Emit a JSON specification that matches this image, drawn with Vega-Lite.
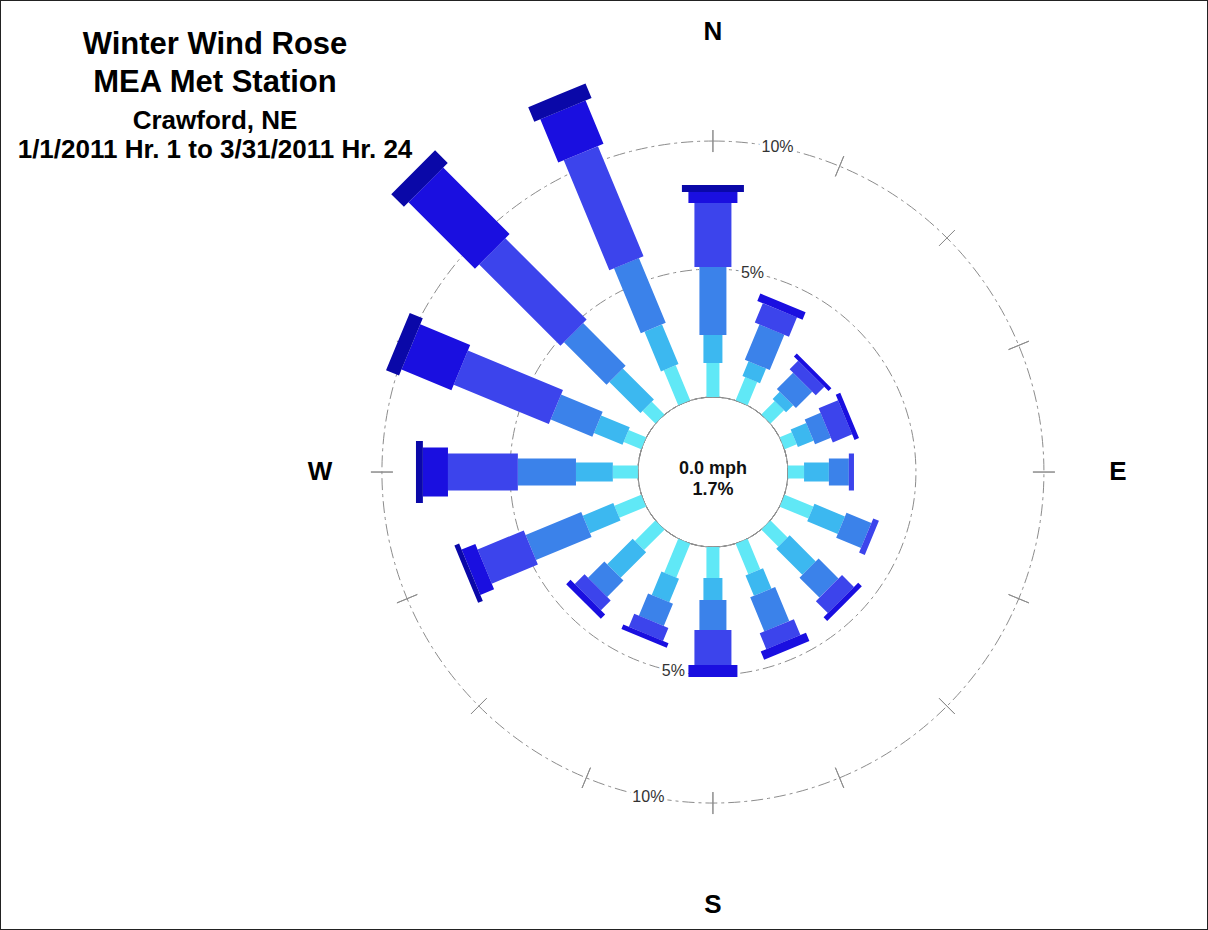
{
  "$schema": "https://vega.github.io/schema/vega-lite/v6.json",
  "width": 1208,
  "height": 930,
  "autosize": {"type": "fit", "contains": "padding"},
  "padding": 0,
  "background": "white",
  "config": {
    "view": {"stroke": "#222222", "strokeWidth": 2},
    "font": "Liberation Sans"
  },
  "title": {
    "text": ["Winter Wind Rose", "MEA Met Station"],
    "subtitle": ["Crawford, NE", "1/1/2011 Hr. 1 to 3/31/2011 Hr. 24"],
    "anchor": "start",
    "frame": "group",
    "align": "center",
    "baseline": "top",
    "dx": 215,
    "offset": -164,
    "font": "Liberation Sans",
    "fontSize": 31,
    "fontWeight": "bold",
    "lineHeight": 38,
    "color": "#000000",
    "subtitleFont": "Liberation Sans",
    "subtitleFontSize": 26,
    "subtitleFontWeight": "bold",
    "subtitleLineHeight": 29,
    "subtitleColor": "#000000",
    "subtitlePadding": 9
  },
  "datasets": {
    "rose": [
      {"dir": 0, "cls": 1, "pct": 1.33}, {"dir": 0, "cls": 2, "pct": 1.09}, {"dir": 0, "cls": 3, "pct": 2.66}, {"dir": 0, "cls": 4, "pct": 2.50}, {"dir": 0, "cls": 5, "pct": 0.43}, {"dir": 0, "cls": 6, "pct": 0.27},
      {"dir": 22.5, "cls": 1, "pct": 0.98}, {"dir": 22.5, "cls": 2, "pct": 0.62}, {"dir": 22.5, "cls": 3, "pct": 1.49}, {"dir": 22.5, "cls": 4, "pct": 0.82}, {"dir": 22.5, "cls": 5, "pct": 0.31},
      {"dir": 45, "cls": 1, "pct": 0.74}, {"dir": 45, "cls": 2, "pct": 0.39}, {"dir": 45, "cls": 3, "pct": 0.90}, {"dir": 45, "cls": 4, "pct": 0.47}, {"dir": 45, "cls": 5, "pct": 0.16},
      {"dir": 67.5, "cls": 1, "pct": 0.51}, {"dir": 67.5, "cls": 2, "pct": 0.66}, {"dir": 67.5, "cls": 3, "pct": 0.67}, {"dir": 67.5, "cls": 4, "pct": 0.82}, {"dir": 67.5, "cls": 5, "pct": 0.19},
      {"dir": 90, "cls": 1, "pct": 0.63}, {"dir": 90, "cls": 2, "pct": 0.97}, {"dir": 90, "cls": 3, "pct": 0.78}, {"dir": 90, "cls": 4, "pct": 0.20},
      {"dir": 112.5, "cls": 1, "pct": 1.21}, {"dir": 112.5, "cls": 2, "pct": 1.29}, {"dir": 112.5, "cls": 3, "pct": 1.05}, {"dir": 112.5, "cls": 4, "pct": 0.24},
      {"dir": 135, "cls": 1, "pct": 0.94}, {"dir": 135, "cls": 2, "pct": 1.44}, {"dir": 135, "cls": 3, "pct": 1.10}, {"dir": 135, "cls": 4, "pct": 0.66}, {"dir": 135, "cls": 5, "pct": 0.20},
      {"dir": 157.5, "cls": 1, "pct": 1.29}, {"dir": 157.5, "cls": 2, "pct": 0.86}, {"dir": 157.5, "cls": 3, "pct": 1.44}, {"dir": 157.5, "cls": 4, "pct": 0.67}, {"dir": 157.5, "cls": 5, "pct": 0.35},
      {"dir": 180, "cls": 1, "pct": 1.21}, {"dir": 180, "cls": 2, "pct": 0.86}, {"dir": 180, "cls": 3, "pct": 1.17}, {"dir": 180, "cls": 4, "pct": 1.37}, {"dir": 180, "cls": 5, "pct": 0.47},
      {"dir": 202.5, "cls": 1, "pct": 1.43}, {"dir": 202.5, "cls": 2, "pct": 0.99}, {"dir": 202.5, "cls": 3, "pct": 0.94}, {"dir": 202.5, "cls": 4, "pct": 0.55}, {"dir": 202.5, "cls": 5, "pct": 0.19},
      {"dir": 225, "cls": 1, "pct": 1.13}, {"dir": 225, "cls": 2, "pct": 1.41}, {"dir": 225, "cls": 3, "pct": 0.90}, {"dir": 225, "cls": 4, "pct": 0.54}, {"dir": 225, "cls": 5, "pct": 0.24},
      {"dir": 247.5, "cls": 1, "pct": 1.13}, {"dir": 247.5, "cls": 2, "pct": 1.29}, {"dir": 247.5, "cls": 3, "pct": 2.35}, {"dir": 247.5, "cls": 4, "pct": 1.95}, {"dir": 247.5, "cls": 5, "pct": 0.58}, {"dir": 247.5, "cls": 6, "pct": 0.20},
      {"dir": 270, "cls": 1, "pct": 0.98}, {"dir": 270, "cls": 2, "pct": 1.44}, {"dir": 270, "cls": 3, "pct": 2.27}, {"dir": 270, "cls": 4, "pct": 2.73}, {"dir": 270, "cls": 5, "pct": 0.98}, {"dir": 270, "cls": 6, "pct": 0.27},
      {"dir": 292.5, "cls": 1, "pct": 0.74}, {"dir": 292.5, "cls": 2, "pct": 1.21}, {"dir": 292.5, "cls": 3, "pct": 1.76}, {"dir": 292.5, "cls": 4, "pct": 4.02}, {"dir": 292.5, "cls": 5, "pct": 2.11}, {"dir": 292.5, "cls": 6, "pct": 0.55},
      {"dir": 315, "cls": 1, "pct": 0.70}, {"dir": 315, "cls": 2, "pct": 1.72}, {"dir": 315, "cls": 3, "pct": 2.35}, {"dir": 315, "cls": 4, "pct": 4.49}, {"dir": 315, "cls": 5, "pct": 3.67}, {"dir": 315, "cls": 6, "pct": 0.70},
      {"dir": 337.5, "cls": 1, "pct": 1.48}, {"dir": 337.5, "cls": 2, "pct": 1.68}, {"dir": 337.5, "cls": 3, "pct": 2.74}, {"dir": 337.5, "cls": 4, "pct": 4.65}, {"dir": 337.5, "cls": 5, "pct": 1.83}, {"dir": 337.5, "cls": 6, "pct": 0.62}
    ],
    "dirs": [
      {"dir": 0}, {"dir": 22.5}, {"dir": 45}, {"dir": 67.5}, {"dir": 90}, {"dir": 112.5}, {"dir": 135}, {"dir": 157.5},
      {"dir": 180}, {"dir": 202.5}, {"dir": 225}, {"dir": 247.5}, {"dir": 270}, {"dir": 292.5}, {"dir": 315}, {"dir": 337.5}
    ],
    "rings": [{"ring": 5, "label": "5%"}, {"ring": 10, "label": "10%"}],
    "compass": [{"label": "N", "dir": 0}, {"label": "E", "dir": 90}, {"label": "S", "dir": 180}, {"label": "W", "dir": 270}],
    "calm": [{"calm": ["0.0 mph", "1.7%"]}]
  },
  "encoding": {
    "x": {"datum": 0, "type": "quantitative", "scale": {"domain": [-27.85, 19.34], "nice": false, "zero": false}, "axis": null},
    "y": {"datum": 0, "type": "quantitative", "scale": {"domain": [-17.89, 18.44], "nice": false, "zero": false}, "axis": null}
  },
  "layer": [
    {
      "data": {"name": "calmring", "values": [{"r": 0}]},
      "mark": {"type": "arc", "filled": false, "stroke": "#9a9a9a", "strokeWidth": 1, "strokeJoin": "bevel"},
      "encoding": {
        "theta": {"datum": 0, "type": "quantitative", "stack": null, "scale": {"domain": [0, 360], "range": [0, 6.283185307179586], "nice": false, "zero": false}},
        "theta2": {"datum": 360},
        "radius": {"field": "r", "type": "quantitative", "stack": null, "scale": {"type": "linear", "domain": [0, 10], "range": [75, 331], "nice": false, "zero": false}}
      }
    },
    {
      "data": {"name": "rings"},
      "mark": {"type": "arc", "filled": false, "stroke": "#8c8c8c", "strokeWidth": 1, "strokeJoin": "bevel", "strokeDash": [12, 4, 3, 4]},
      "encoding": {
        "theta": {"datum": 0, "type": "quantitative", "stack": null},
        "theta2": {"datum": 360},
        "radius": {"field": "ring", "type": "quantitative", "stack": null}
      }
    },
    {
      "data": {"name": "dirs"},
      "mark": {"type": "arc", "filled": false, "stroke": "#8c8c8c", "strokeWidth": 1, "strokeJoin": "bevel"},
      "encoding": {
        "theta": {"field": "dir", "type": "quantitative", "stack": null},
        "theta2": {"field": "dir"},
        "radius": {"datum": 10.43, "type": "quantitative", "stack": null},
        "radius2": {"datum": 9.57}
      }
    },
    {
      "data": {"name": "rings"},
      "mark": {"type": "text", "font": "Liberation Sans", "fontSize": 16, "align": "center", "baseline": "middle", "stroke": "white", "strokeWidth": 7, "fill": "white"},
      "encoding": {
        "theta": {"datum": 11.25, "type": "quantitative"},
        "radius": {"field": "ring", "type": "quantitative"},
        "text": {"field": "label", "type": "nominal"}
      }
    },
    {
      "data": {"name": "rings"},
      "mark": {"type": "text", "font": "Liberation Sans", "fontSize": 16, "align": "center", "baseline": "middle", "stroke": "white", "strokeWidth": 7, "fill": "white"},
      "encoding": {
        "theta": {"datum": 191.25, "type": "quantitative"},
        "radius": {"field": "ring", "type": "quantitative"},
        "text": {"field": "label", "type": "nominal"}
      }
    },
    {
      "data": {"name": "rings"},
      "mark": {"type": "text", "font": "Liberation Sans", "fontSize": 16, "align": "center", "baseline": "middle", "fill": "#333333"},
      "encoding": {
        "theta": {"datum": 11.25, "type": "quantitative"},
        "radius": {"field": "ring", "type": "quantitative"},
        "text": {"field": "label", "type": "nominal"}
      }
    },
    {
      "data": {"name": "rings"},
      "mark": {"type": "text", "font": "Liberation Sans", "fontSize": 16, "align": "center", "baseline": "middle", "fill": "#333333"},
      "encoding": {
        "theta": {"datum": 191.25, "type": "quantitative"},
        "radius": {"field": "ring", "type": "quantitative"},
        "text": {"field": "label", "type": "nominal"}
      }
    },
    {
      "data": {"name": "rose"},
      "transform": [
        {"stack": "pct", "groupby": ["dir"], "sort": [{"field": "cls", "order": "ascending"}], "as": ["p0", "p1"]}
      ],
      "mark": {"type": "arc", "filled": false, "strokeCap": "butt", "strokeJoin": "bevel"},
      "encoding": {
        "theta": {"field": "dir", "type": "quantitative", "stack": null},
        "theta2": {"field": "dir"},
        "radius": {"field": "p1", "type": "quantitative", "stack": null},
        "radius2": {"field": "p0"},
        "stroke": {
          "field": "cls", "type": "ordinal", "legend": null,
          "scale": {"domain": [1, 2, 3, 4, 5, 6], "range": ["#60e8f6", "#3cb8f0", "#3b82ea", "#3c44ec", "#1a0fe0", "#0a08a8"]}
        },
        "strokeWidth": {
          "field": "cls", "type": "ordinal", "legend": null,
          "scale": {"type": "ordinal", "domain": [1, 2, 3, 4, 5, 6], "range": [13, 19, 27, 37, 49, 62]}
        },
        "order": {"field": "cls", "type": "ordinal"}
      }
    },
    {
      "data": {"name": "calm"},
      "mark": {"type": "text", "font": "Liberation Sans", "fontSize": 18, "fontWeight": "bold", "align": "center", "baseline": "alphabetic", "lineHeight": 21, "dy": 2, "fill": "#111111"},
      "encoding": {
        "text": {"field": "calm", "type": "nominal"}
      }
    },
    {
      "data": {"name": "compass"},
      "transform": [{"filter": "datum.label === 'N'"}],
      "mark": {"type": "text", "font": "Liberation Sans", "fontSize": 26, "fontWeight": "bold", "align": "center", "baseline": "middle", "fill": "#000000"},
      "encoding": {
        "theta": {"field": "dir", "type": "quantitative"},
        "radius": {"datum": 14.26, "type": "quantitative"},
        "text": {"field": "label", "type": "nominal"}
      }
    },
    {
      "data": {"name": "compass"},
      "transform": [{"filter": "datum.label === 'E'"}],
      "mark": {"type": "text", "font": "Liberation Sans", "fontSize": 26, "fontWeight": "bold", "align": "center", "baseline": "middle", "fill": "#000000"},
      "encoding": {
        "theta": {"field": "dir", "type": "quantitative"},
        "radius": {"datum": 12.89, "type": "quantitative"},
        "text": {"field": "label", "type": "nominal"}
      }
    },
    {
      "data": {"name": "compass"},
      "transform": [{"filter": "datum.label === 'S'"}],
      "mark": {"type": "text", "font": "Liberation Sans", "fontSize": 26, "fontWeight": "bold", "align": "center", "baseline": "middle", "fill": "#000000"},
      "encoding": {
        "theta": {"field": "dir", "type": "quantitative"},
        "radius": {"datum": 13.98, "type": "quantitative"},
        "text": {"field": "label", "type": "nominal"}
      }
    },
    {
      "data": {"name": "compass"},
      "transform": [{"filter": "datum.label === 'W'"}],
      "mark": {"type": "text", "font": "Liberation Sans", "fontSize": 26, "fontWeight": "bold", "align": "center", "baseline": "middle", "fill": "#000000"},
      "encoding": {
        "theta": {"field": "dir", "type": "quantitative"},
        "radius": {"datum": 12.42, "type": "quantitative"},
        "text": {"field": "label", "type": "nominal"}
      }
    }
  ]
}
